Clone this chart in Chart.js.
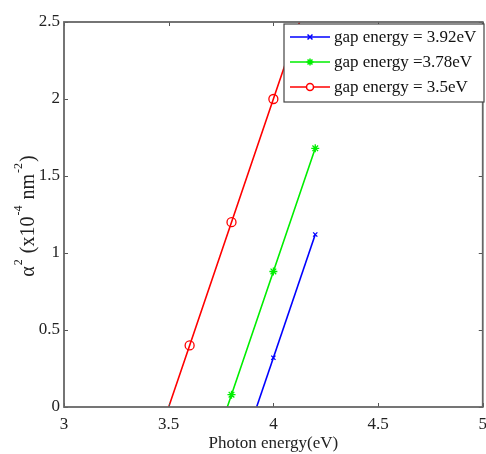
<!DOCTYPE html>
<html>
<head>
<meta charset="utf-8">
<script src="https://cdn.jsdelivr.net/npm/chart.js@4/dist/chart.umd.min.js"></script>
<style>
  html, body { margin: 0; padding: 0; background: #fff; overflow: hidden; }
  #wrap { width: 494px; height: 454px; }
</style>
</head>
<body>
<div id="wrap"><canvas id="c"></canvas></div>
<script>
"use strict";
// data
const seriesNames = ["gap energy = 3.92eV", "gap energy =3.78eV", "gap energy = 3.5eV"];
const blueX = [3.92, 4.0, 4.2];
const blueY = [0, 0.32, 1.12];
const greenX = [3.78, 3.8, 4.0, 4.2];
const greenY = [0, 0.08, 0.88, 1.68];
const redX = [3.5, 3.6, 3.8, 4.0, 4.2];
const redY = [0, 0.4, 1.2, 2.0, 2.8];
const xTicks = [3, 3.5, 4, 4.5, 5];
const yTicks = [0, 0.5, 1, 1.5, 2, 2.5];

const FONT = "'Liberation Serif', 'Times New Roman', serif";
const SIZE = 17;

function pts(xs, ys) {
	return xs.map((x, i) => ({ x: x, y: ys[i] }));
}
// first point is the intercept on the axis, no marker there
function radii(n, r) {
	let out = [];
	for (let i = 0; i < n; i++) out.push(i == 0 ? 0 : r);
	return out;
}

const colors = ["#0000ff", "#00ee00", "#ff0000"];
const styles = ["crossRot", "star", "circle"];
const fills = ["#0000ff", "#00ee00", "#ffffff"];

// y title with superscripts: [text, superscript?]
const yTitleParts = [["α", false], ["2", true], [" (x10", false], ["-4", true], [" nm", false], ["-2", true], [")", false]];

// box, inward ticks, y title and the legend, matlab style
const matlabBox = {
	id: "matlabBox",
	afterDraw(chart) {
		const ctx = chart.ctx;
		const a = chart.chartArea;
		const xs = chart.scales.x, ys = chart.scales.y;
		ctx.save();
		ctx.strokeStyle = "#555";
		ctx.lineWidth = 1;
		ctx.beginPath();
		for (const t of xTicks) {
			let p = Math.round(xs.getPixelForValue(t)) + 0.5;
			ctx.moveTo(p, a.bottom); ctx.lineTo(p, a.bottom - 4);
			ctx.moveTo(p, a.top); ctx.lineTo(p, a.top + 4);
		}
		for (const t of yTicks) {
			let p = Math.round(ys.getPixelForValue(t)) + 0.5;
			ctx.moveTo(a.left, p); ctx.lineTo(a.left + 4, p);
			ctx.moveTo(a.right, p); ctx.lineTo(a.right - 4, p);
		}
		ctx.stroke();
		ctx.strokeStyle = "#666";
		ctx.lineWidth = 1.8;
		ctx.strokeRect(a.left, a.top, a.right - a.left, a.bottom - a.top);

		// y title
		const big = "20px " + FONT, small = "12px " + FONT;
		let w = 0;
		for (const p of yTitleParts) {
			ctx.font = p[1] ? small : big;
			w += ctx.measureText(p[0]).width + (p[1] ? 2 : 0);
		}
		ctx.translate(29, 216);
		ctx.rotate(-Math.PI / 2);
		ctx.fillStyle = "#222";
		ctx.textBaseline = "middle";
		let cx = -w / 2;
		for (const p of yTitleParts) {
			ctx.font = p[1] ? small : big;
			ctx.fillText(p[0], cx + (p[1] ? 1 : 0), p[1] ? -10 : 0);
			cx += ctx.measureText(p[0]).width + (p[1] ? 2 : 0);
		}
		ctx.setTransform(1, 0, 0, 1, 0, 0);

		// legend
		const lx = 284, ly = 24, lw = 200, lh = 78;
		ctx.fillStyle = "#fff";
		ctx.fillRect(lx, ly, lw, lh);
		ctx.strokeStyle = "#444";
		ctx.lineWidth = 1.2;
		ctx.strokeRect(lx, ly, lw, lh);
		ctx.font = SIZE + "px " + FONT;
		ctx.textBaseline = "middle";
		const rowY = [37, 62, 87];
		for (let i = 0; i < 3; i++) {
			const y = rowY[i];
			ctx.strokeStyle = colors[i];
			ctx.lineWidth = 1.5;
			ctx.beginPath();
			ctx.moveTo(290, y); ctx.lineTo(330, y);
			ctx.stroke();
			ctx.fillStyle = fills[i];
			Chart.helpers.drawPoint(ctx, { pointStyle: styles[i], radius: 3.5, borderWidth: 1.3 }, 310, y);
			ctx.fillStyle = "#111";
			ctx.fillText(seriesNames[i], 334, y + 1);
		}
		ctx.restore();
	}
};

function ds(i, xs, ys, r) {
	return {
		label: seriesNames[i],
		data: pts(xs, ys),
		borderColor: colors[i],
		backgroundColor: fills[i],
		borderWidth: 1.6,
		pointStyle: styles[i],
		pointRadius: radii(xs.length, r),
		pointBorderWidth: 1.3,
		pointBorderColor: colors[i],
		pointBackgroundColor: "rgba(0,0,0,0)",
		tension: 0
	};
}

new Chart(document.getElementById("c"), {
	type: "line",
	data: {
		datasets: [
			ds(0, blueX, blueY, 3),
			ds(1, greenX, greenY, 4),
			ds(2, redX, redY, 4.5)
		]
	},
	options: {
		responsive: true,
		maintainAspectRatio: false,
		animation: false,
		layout: { padding: { top: 22, right: 0, left: 0, bottom: 0 } },
		plugins: { legend: { display: false }, tooltip: { enabled: false } },
		scales: {
			x: {
				type: "linear",
				min: 3, max: 5,
				afterBuildTicks(s) { s.ticks = xTicks.map(v => ({ value: v })); },
				afterFit(s) { s.height = 47; },
				grid: { display: false, drawTicks: false },
				border: { display: false },
				ticks: { color: "#222", font: { family: FONT, size: SIZE }, padding: 7, maxRotation: 0,
					callback: v => String(v) },
				title: { display: true, text: "Photon energy(eV)", color: "#222",
					font: { family: FONT, size: SIZE }, padding: { top: 0, bottom: 0 } }
			},
			y: {
				type: "linear",
				min: 0, max: 2.5,
				afterBuildTicks(s) { s.ticks = yTicks.map(v => ({ value: v })); },
				afterFit(s) { s.width = 64; },
				grid: { display: false, drawTicks: false },
				border: { display: false },
				ticks: { color: "#222", font: { family: FONT, size: SIZE }, padding: 4,
					callback: v => String(v) }
			}
		}
	},
	plugins: [matlabBox]
});
</script>
</body>
</html>
